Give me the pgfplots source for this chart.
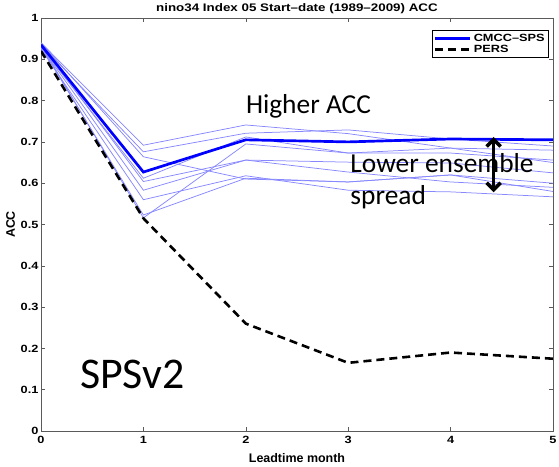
\documentclass[border=0pt]{standalone}
\usepackage{fontspec}
\setmainfont{Liberation Sans}
\newfontfamily\mlfont[FakeStretch=1.22]{Liberation Sans}
\newfontfamily\calibri{Carlito}
\usepackage{pgfplots}
\pgfplotsset{compat=1.18}
\usetikzlibrary{arrows.meta}

\definecolor{ensblue}{RGB}{135,135,255}
\definecolor{axgray}{RGB}{90,90,90}

\begin{document}
\begin{tikzpicture}
\begin{axis}[
  name=ax,
  scale only axis,
  width=512bp,
  height=413bp,
  xmin=0, xmax=5,
  ymin=0, ymax=1,
  xtick={0,1,2,3,4,5},
  ytick={0,0.1,0.2,0.3,0.4,0.5,0.6,0.7,0.8,0.9,1},
  yticklabels={0,0.1,0.2,0.3,0.4,0.5,0.6,0.7,0.8,0.9,1},
  tick align=inside,
  major tick length=4bp,
  axis line style={axgray},
  tick style={axgray,line width=0.5pt},
  /pgf/number format/assume math mode=true,
  ticklabel style={font=\mlfont\fontsize{10.5}{11}\selectfont\bfseries},
  xticklabel style={yshift=-1.5bp},
  yticklabel style={xshift=1bp},
  title={nino34 Index 05 Start–date (1989–2009) ACC},
  title style={font=\mlfont\fontsize{11}{12}\selectfont\bfseries,yshift=-5.5bp},
  xlabel={Leadtime month},
  ylabel={ACC},
  label style={font=\fontsize{12.5}{13}\selectfont\bfseries},
  xlabel style={yshift=-3bp},
  ylabel style={yshift=-1bp},
  legend style={at={(0.991,0.97)},anchor=north east,draw=black,
    font=\mlfont\fontsize{10.5}{11}\selectfont\bfseries,
    inner sep=1.5bp,row sep=-1.5bp},
  legend cell align=left,
  legend image code/.code={\draw[#1] (0bp,0bp) -- (35bp,0bp);},
]
% ensemble members
\addplot[ensblue,line width=0.75pt,forget plot] coordinates {(0,0.940) (1,0.692) (2,0.741) (3,0.720) (4,0.685) (5,0.680)};
\addplot[ensblue,line width=0.75pt,forget plot] coordinates {(0,0.935) (1,0.676) (2,0.721) (3,0.729) (4,0.707) (5,0.690)};
\addplot[ensblue,line width=0.75pt,forget plot] coordinates {(0,0.940) (1,0.664) (2,0.610) (3,0.603) (4,0.620) (5,0.600)};
\addplot[ensblue,line width=0.75pt,forget plot] coordinates {(0,0.930) (1,0.612) (2,0.712) (3,0.673) (4,0.673) (5,0.656)};
\addplot[ensblue,line width=0.75pt,forget plot] coordinates {(0,0.935) (1,0.604) (2,0.656) (3,0.651) (4,0.649) (5,0.625)};
\addplot[ensblue,line width=0.75pt,forget plot] coordinates {(0,0.930) (1,0.583) (2,0.656) (3,0.627) (4,0.603) (5,0.590)};
\addplot[ensblue,line width=0.75pt,forget plot] coordinates {(0,0.925) (1,0.560) (2,0.618) (3,0.583) (4,0.579) (5,0.567)};
\addplot[ensblue,line width=0.75pt,forget plot] coordinates {(0,0.930) (1,0.523) (2,0.612) (3,0.603) (4,0.620) (5,0.580)};
\addplot[ensblue,line width=0.75pt,forget plot] coordinates {(0,0.935) (1,0.516) (2,0.695) (3,0.673) (4,0.685) (5,0.650)};
% ensemble mean
\addplot[blue,line width=2.7pt] coordinates {(0,0.935) (1,0.627) (2,0.705) (3,0.700) (4,0.707) (5,0.705)};
% persistence
\addplot[black,line width=2.6pt,dash pattern=on 8bp off 5bp] coordinates {(0,0.920) (1,0.515) (2,0.260) (3,0.165) (4,0.190) (5,0.175)};
\legend{CMCC–SPS,PERS}

\node[anchor=west,inner sep=0pt,font=\calibri\fontsize{27.5}{29}\selectfont] at (axis cs:2.0,0.785) {Higher ACC};
\node[anchor=west,inner sep=0pt,font=\calibri\fontsize{27.5}{29}\selectfont] at (axis cs:3.02,0.649) {Lower ensemble};
\node[anchor=west,inner sep=0pt,font=\calibri\fontsize{27.5}{29}\selectfont] at (axis cs:3.02,0.565) {spread};
\node[anchor=west,inner sep=0pt,font=\calibri\fontsize{44}{46}\selectfont] at (axis cs:0.38,0.136) {SPSv2};
\draw[line width=3.5bp,{Straight Barb[length=7bp,width=14bp]}-{Straight Barb[length=7bp,width=14bp]}]
  (axis cs:4.42,0.712) -- (axis cs:4.42,0.578);
\end{axis}
\pgfresetboundingbox
\path ([shift={(-41bp,-36bp)}]ax.south west) rectangle ([shift={(6bp,18bp)}]ax.north east);
\end{tikzpicture}
\end{document}
